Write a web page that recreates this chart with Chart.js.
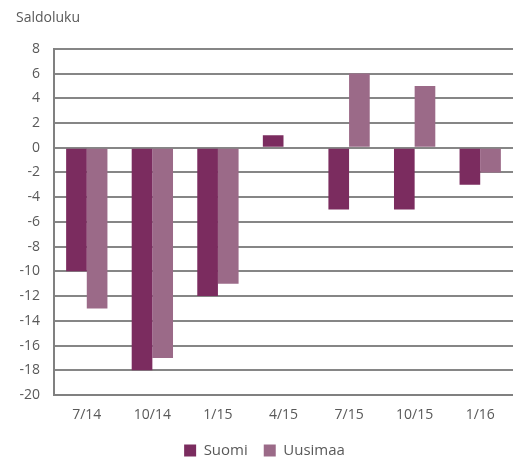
<!DOCTYPE html>
<html>
<head>
<meta charset="utf-8">
<script src="https://cdn.jsdelivr.net/npm/chart.js@4/dist/chart.umd.min.js"></script>
<style>
  html, body { margin: 0; padding: 0; background: #fff; }
  #wrap { width: 513px; height: 459px; }
</style>
</head>
<body>
<div id="wrap"><canvas id="chart"></canvas></div>
<script>
// kvartaalit ja saldoluvut
var categories = ["7/14", "10/14", "1/15", "4/15", "7/15", "10/15", "1/16"];
var suomi = [-10, -18, -12, 1, -5, -5, -3];
var uusimaa = [-13, -17, -11, 0, 6, 5, -2];

var fontFamily = "'Open Sans', 'Noto Sans', sans-serif";

var chart = new Chart(document.getElementById("chart").getContext("2d"), {
  type: "bar",
  data: {
    labels: categories,
    datasets: [
      {
        label: "Suomi",
        data: suomi,
        backgroundColor: "#7b2c5f",
        borderWidth: 0,
        categoryPercentage: 0.63,
        barPercentage: 1.0
      },
      {
        label: "Uusimaa",
        data: uusimaa,
        backgroundColor: "#9b6a88",
        borderWidth: 0,
        categoryPercentage: 0.63,
        barPercentage: 1.0
      }
    ]
  },
  options: {
    responsive: true,
    maintainAspectRatio: false,
    animation: false,
    layout: { padding: { left: 16, right: 0, top: 0, bottom: -9 } },
    plugins: {
      title: {
        display: true,
        text: "Saldoluku",
        align: "start",
        color: "#595959",
        font: { family: fontFamily, size: 14, weight: "normal" },
        padding: { top: 10, bottom: 22 }
      },
      legend: {
        position: "bottom",
        labels: {
          color: "#595959",
          font: { family: fontFamily, size: 15 },
          boxWidth: 12,
          boxHeight: 12,
          padding: 16
        }
      },
      tooltip: { enabled: false }
    },
    scales: {
      x: {
        afterFit: function(scale) {
          scale.height = 32;
        },
        grid: { display: false, drawTicks: false },
        border: { display: true, color: "#808080", width: 2 },
        ticks: {
          color: "#595959",
          font: { family: fontFamily, size: 14 },
          padding: 12,
          maxRotation: 0
        }
      },
      y: {
        min: -20,
        max: 8,
        afterFit: function(scale) {
          scale.width = 38;
        },
        grid: { color: "#868686", lineWidth: 2, drawTicks: false },
        border: { display: true, color: "#808080", width: 2 },
        ticks: {
          stepSize: 2,
          color: "#595959",
          font: { family: fontFamily, size: 14 },
          padding: 14
        }
      }
    }
  }
});
</script>
</body>
</html>
